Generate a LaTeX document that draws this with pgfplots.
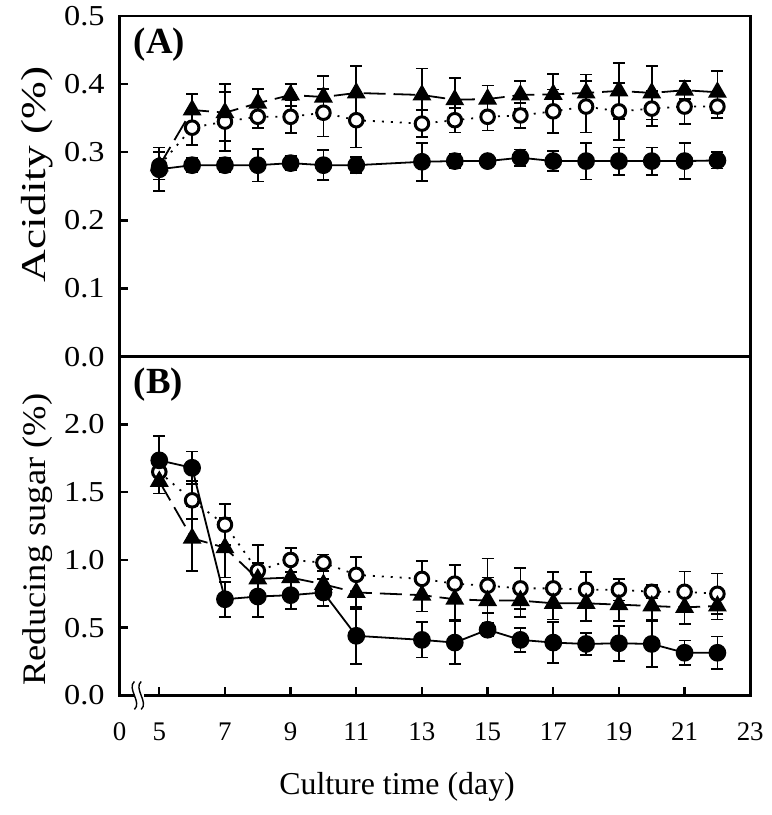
\documentclass[border=0pt]{standalone}
\usepackage{fontspec}
\setmainfont{Liberation Serif}
\newfontfamily\tickfont[FakeStretch=1.12]{Liberation Serif}
\usepackage{pgfplots}
\pgfplotsset{compat=1.18}
\usepackage{pgfplotstable}

\pgfplotstableread{
x y e
5 0.275 0.032
6 0.281 0.010
7 0.281 0.010
8 0.281 0.024
9 0.284 0.010
10 0.281 0.022
11 0.281 0.012
13 0.286 0.028
14 0.287 0.010
15 0.287 0.008
16 0.292 0.012
17 0.287 0.015
18 0.287 0.027
19 0.287 0.020
20 0.287 0.020
21 0.287 0.026
22 0.288 0.012
}\acidC
\pgfplotstableread{
x y e
5 0.280 0.020
6 0.362 0.023
7 0.358 0.042
8 0.372 0.021
9 0.384 0.016
10 0.381 0.031
11 0.387 0.039
13 0.384 0.039
14 0.377 0.032
15 0.378 0.020
16 0.384 0.020
17 0.385 0.030
18 0.387 0.027
19 0.390 0.041
20 0.387 0.039
21 0.391 0.013
22 0.388 0.031
}\acidT
\pgfplotstableread{
x y e
5 0.280 0.020
6 0.336 0.025
7 0.345 0.043
8 0.352 0.016
9 0.352 0.024
10 0.358 0.035
11 0.347 0.040
13 0.342 0.020
14 0.347 0.018
15 0.352 0.020
16 0.354 0.018
17 0.360 0.032
18 0.367 0.038
19 0.360 0.042
20 0.364 0.026
21 0.367 0.025
22 0.367 0.017
}\acidO
\pgfplotstableread{
x y e
5 1.735 0.18
6 1.68 0.12
7 0.71 0.13
8 0.73 0.15
9 0.74 0.10
10 0.76 0.10
11 0.44 0.21
13 0.41 0.13
14 0.39 0.16
15 0.485 0.05
16 0.41 0.09
17 0.39 0.15
18 0.38 0.08
19 0.385 0.13
20 0.38 0.17
21 0.315 0.09
22 0.315 0.12
}\sugC
\pgfplotstableread{
x y e
5 1.58 0.09
6 1.16 0.24
7 1.09 0.22
8 0.86 0.12
9 0.87 0.10
10 0.82 0.10
11 0.76 0.12
13 0.74 0.12
14 0.71 0.15
15 0.70 0.17
16 0.70 0.12
17 0.68 0.12
18 0.68 0.13
19 0.67 0.12
20 0.66 0.10
21 0.65 0.12
22 0.66 0.10
}\sugT
\pgfplotstableread{
x y e
5 1.65 0.08
6 1.44 0.14
7 1.26 0.15
8 0.92 0.19
9 1.00 0.09
10 0.98 0.06
11 0.89 0.13
13 0.86 0.13
14 0.825 0.14
15 0.81 0.20
16 0.79 0.15
17 0.79 0.12
18 0.78 0.13
19 0.78 0.08
20 0.765 0.05
21 0.765 0.15
22 0.75 0.15
}\sugO

\pgfplotsset{
  panel/.style={
    scale only axis, width=316.5pt,
    xmin=3.79, xmax=23,
    axis line style={line width=1.4pt},
    tick style={line width=1.2pt, black},
    major tick length=4pt,
    tick align=inside,
    ytick pos=left,
    /pgf/number format/assume math mode=true,
    /pgf/number format/.cd, fixed, fixed zerofill, precision=1, /pgfplots/.cd,
    yticklabel style={font=\tickfont\fontsize{14.5}{14.5}\selectfont, xshift=-4pt},
  },
  errs/.style={error bars/.cd, y dir=both, y explicit,
    error bar style={line width=0.9pt, solid},
    error mark options={rotate=90, mark size=3pt, line width=0.9pt}},
  sc/.style={black, line width=0.9pt, mark=*, mark size=4pt, mark options={solid, fill=black}, errs},
  st/.style={black, line width=0.9pt, dash pattern=on 11pt off 4pt, mark=triangle*, mark size=4.6pt, mark options={solid, fill=black}, errs},
  so/.style={black, line width=0.9pt, dash pattern=on 1pt off 3.5pt, mark=*, mark size=3.4pt, mark options={solid, fill=white, line width=1.5pt}, errs},
}

\begin{document}
\begin{tikzpicture}
\useasboundingbox (-60pt,-60pt) rectangle (327pt,349pt);
% bottom panel
\begin{axis}[panel, at={(0,0)}, anchor=south west, height=170pt,
  ymin=0, ymax=2.5, ytick={0,0.5,1,1.5,2},
  xtick={5,7,...,23}, xtick pos=bottom,
  xticklabel style={font=\fontsize{13.5}{13.5}\selectfont, yshift=-10pt, /pgf/number format/precision=0, /pgf/number format/fixed zerofill=false},
  extra x ticks={3.79}, extra x tick labels={0},
  extra x tick style={major tick length=0pt},
  xlabel={Culture time (day)},
  xlabel style={at={(axis description cs:0.44,0)}, anchor=center, yshift=-46pt, font=\fontsize{16}{16}\selectfont},
  ylabel={\scalebox{1.11}[1]{Reducing sugar (\%)}},
  ylabel style={at={(axis description cs:-0.13,0.46)}, anchor=center, font=\fontsize{16.5}{16.5}\selectfont},
  clip=false]
\addplot[so] table[x=x, y=y, y error=e] {\sugO};
\addplot[st] table[x=x, y=y, y error=e] {\sugT};
\addplot[sc] table[x=x, y=y, y error=e] {\sugC};
\node[anchor=north west, inner sep=0pt, font=\bfseries\fontsize{18.5}{18.5}\selectfont] at ([xshift=7pt,yshift=-5.5pt]rel axis cs:0,1) {(B)};
\fill[white] ([xshift=-2.2pt,yshift=-1.5pt]axis cs:4.4,0) rectangle ([xshift=2.2pt,yshift=1.5pt]axis cs:4.4,0);
\draw[line width=0.7pt] ([xshift=-2.6pt,yshift=-7pt]axis cs:4.4,0) .. controls +(4pt,3.5pt) and +(-4pt,-3.5pt) .. ++(0pt,14pt);
\draw[line width=0.7pt] ([xshift=0.8pt,yshift=-7pt]axis cs:4.4,0) .. controls +(4pt,3.5pt) and +(-4pt,-3.5pt) .. ++(0pt,14pt);
\end{axis}
% top panel
\begin{axis}[panel, at={(0,170pt)}, anchor=south west, height=171pt,
  ymin=0, ymax=0.5, ytick={0,0.1,...,0.5},
  xtick=\empty,
  ylabel={\scalebox{1.3}[1]{Acidity (\%)}},
  ylabel style={at={(axis description cs:-0.13,0.535)}, anchor=center, font=\fontsize{17.5}{17.5}\selectfont}]
\addplot[so] table[x=x, y=y, y error=e] {\acidO};
\addplot[st] table[x=x, y=y, y error=e] {\acidT};
\addplot[sc] table[x=x, y=y, y error=e] {\acidC};
\node[anchor=north west, inner sep=0pt, font=\bfseries\fontsize{18.5}{18.5}\selectfont] at ([xshift=7pt,yshift=-6pt]rel axis cs:0,1) {(A)};
\end{axis}
\end{tikzpicture}
\end{document}
